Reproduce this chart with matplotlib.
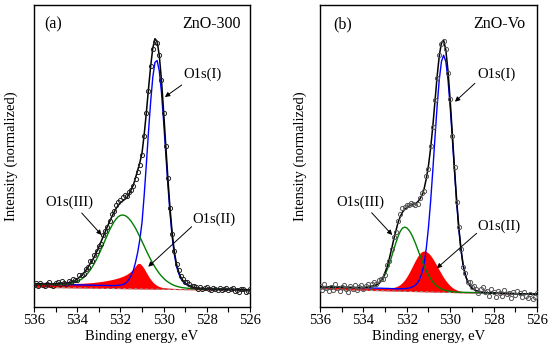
import matplotlib
matplotlib.use("Agg")
import matplotlib.pyplot as plt
import numpy as np
from matplotlib.ticker import MultipleLocator

plt.rcParams['font.family'] = ['Liberation Serif', 'DejaVu Serif']

# O1s XPS spectra, binding energy 536 -> 526 eV in 0.1 eV steps
ENERGY = np.linspace(536.0, 526.0, 101)

# ---- ZnO-300 (a) ----
BASE_A = [19.4, 19.4, 19.3, 19.3, 19.3, 19.2, 19.2, 19.2, 19.1, 19.1,
          19.1, 19.0, 19.0, 19.0, 18.9, 18.9, 18.9, 18.8, 18.8, 18.8,
          18.7, 18.7, 18.7, 18.6, 18.6, 18.6, 18.5, 18.5, 18.4, 18.4,
          18.4, 18.3, 18.3, 18.3, 18.2, 18.2, 18.2, 18.1, 18.1, 18.1,
          18.0, 18.0, 18.0, 17.9, 17.9, 17.9, 17.8, 17.8, 17.8, 17.7,
          17.7, 17.7, 17.6, 17.6, 17.6, 17.5, 17.5, 17.5, 17.4, 17.4,
          17.4, 17.3, 17.3, 17.3, 17.2, 17.2, 17.2, 17.1, 17.1, 17.1,
          17.0, 17.0, 17.0, 16.9, 16.9, 16.9, 16.8, 16.8, 16.7, 16.7,
          16.7, 16.6, 16.6, 16.6, 16.5, 16.5, 16.5, 16.4, 16.4, 16.4,
          16.3, 16.3, 16.3, 16.2, 16.2, 16.2, 16.1, 16.1, 16.1, 16.0, 16.0]
SHIRLEY_A = [22.5, 22.5, 22.4, 22.4, 22.4, 22.3, 22.3, 22.3, 22.2, 22.2,
             22.2, 22.1, 22.1, 22.1, 22.0, 22.0, 22.0, 21.9, 21.9, 21.9,
             21.8, 21.8, 21.7, 21.7, 21.7, 21.6, 21.6, 21.5, 21.5, 21.4,
             21.4, 21.4, 21.3, 21.3, 21.2, 21.2, 21.1, 21.0, 21.0, 20.9,
             20.8, 20.7, 20.7, 20.6, 20.5, 20.4, 20.3, 20.3, 20.2, 20.1,
             20.0, 19.9, 19.7, 19.6, 19.5, 19.4, 19.3, 19.2, 19.0, 18.9,
             18.8, 18.7, 18.6, 18.5, 18.4, 18.3, 18.2, 18.2, 18.1, 18.1,
             18.0, 18.0, 18.0, 17.9, 17.9, 17.9, 17.8, 17.8, 17.8, 17.7,
             17.7, 17.7, 17.6, 17.6, 17.5, 17.5, 17.5, 17.4, 17.4, 17.4,
             17.3, 17.3, 17.3, 17.2, 17.2, 17.2, 17.1, 17.1, 17.1, 17.0, 17.0]
PEAK1_A = [0] * 38 + [0.3, 0.5, 0.8, 1.3, 2.2, 4.0, 7.0, 11.0, 16.0, 24.0,
                      34.0, 47.0, 64.0, 91.0, 122.0, 155.0, 185.0, 210.0, 225.0, 227.0,
                      217.0, 196.0, 167.0, 135.0, 103.0, 74.5, 51.0, 33.5, 22.0, 15.0,
                      10.0, 7.0, 5.0, 3.5, 2.5, 1.8, 1.2, 0.8, 0.5, 0.3] + [0] * 23
PEAK2_A = [0.5, 0.5, 0.6, 0.6, 0.6, 0.7, 0.7, 0.7, 0.8, 0.8,
           0.8, 0.9, 0.9, 1.0, 1.0, 1.1, 1.1, 1.2, 1.3, 1.4,
           1.5, 1.6, 1.7, 1.8, 2.0, 2.2, 2.4, 2.6, 2.9, 3.2,
           3.5, 3.8, 4.2, 4.6, 5.0, 5.5, 6.0, 6.6, 7.2, 7.9,
           8.7, 9.6, 10.6, 11.8, 13.4, 15.2, 17.6, 20.4, 23.0, 23.2,
           21.2, 18.2, 14.6, 11.0, 7.8, 5.2, 3.3, 2.0, 1.1, 0.6,
           0.3, 0.2, 0.1] + [0] * 38
PEAK3_A = [0] * 11 + [0.1, 0.2, 0.3, 0.5, 0.7, 0.9, 1.3, 1.8, 2.5, 3.4,
                      4.5, 5.8, 7.5, 9.6, 12.1, 15.0, 18.3, 22.0, 26.2, 30.7,
                      35.5, 40.5, 45.6, 50.6, 55.4, 59.7, 63.6, 66.7, 69.1, 70.5,
                      71.0, 70.6, 69.4, 67.5, 65.0, 61.8, 58.2, 54.1, 49.8, 45.3,
                      40.8, 36.3, 32.0, 27.8, 24.0, 20.4, 17.2, 14.3, 11.8, 9.6,
                      7.7, 6.2, 4.9, 3.8, 2.9, 2.2, 1.7, 1.2, 0.9, 0.7,
                      0.5, 0.3, 0.2, 0.1] + [0] * 26
FIT_A = [23.0, 23.0, 23.0, 23.0, 23.0, 23.0, 23.0, 23.0, 23.0, 23.0,
         23.0, 23.1, 23.2, 23.4, 23.5, 23.8, 24.0, 24.4, 25.0, 25.8,
         27.7, 29.4, 31.2, 33.5, 36.3, 39.4, 43.0, 46.4, 50.4, 54.8,
         59.6, 64.7, 70.0, 75.0, 80.3, 85.1, 89.8, 94.2, 98.2, 101.4,
         103.8, 105.6, 107.4, 108.8, 112.9, 117.1, 121.7, 128.9, 136.3, 144.1,
         153.5, 171.9, 193.6, 217.6, 240.1, 258.6, 268.0, 265.4, 251.4, 227.3,
         195.7, 161.6, 127.9, 97.9, 73.2, 54.7, 42.4, 34.9, 29.3, 26.0,
         23.7, 22.0, 20.8, 19.9, 19.2, 18.7, 18.3, 18.1, 17.8, 17.7,
         17.7, 17.7, 17.6, 17.6, 17.5, 17.5, 17.5, 17.4, 17.4, 17.4,
         17.3, 17.3, 17.3, 17.2, 17.2, 17.2, 17.1, 17.1, 17.1, 17.0, 17.0]
DATA_A = [21.5, 23.5, 21.0, 24.0, 22.0, 20.5, 23.0, 24.5, 22.0, 21.0,
          23.5, 24.6, 22.7, 25.4, 23.5, 22.8, 25.5, 24.9, 27.5, 26.8,
          27.2, 31.4, 32.2, 32.5, 37.8, 39.4, 45.5, 45.4, 51.4, 55.3,
          61.1, 63.2, 72.0, 75.5, 79.3, 86.1, 92.8, 96.2, 102.2, 104.9,
          106.8, 109.6, 111.9, 110.8, 114.4, 117.1, 120.7, 127.9, 134.8, 142.1,
          151.5, 170.9, 193.6, 216.1, 241.1, 257.6, 265.0, 263.4, 251.9, 226.3,
          193.7, 160.6, 128.9, 98.4, 72.7, 55.7, 42.4, 36.4, 30.3, 28.0,
          24.7, 24.5, 22.3, 20.4, 21.2, 19.7, 17.8, 19.6, 17.8, 18.7,
          19.7, 18.2, 16.6, 19.1, 17.5, 16.5, 18.5, 16.9, 17.9, 18.9,
          16.3, 17.8, 18.8, 15.7, 17.2, 15.2, 18.1, 17.6, 14.6, 16.0, 17.5]

# ---- ZnO-Vo (b) ----
BASE_B = [17.5, 17.4, 17.4, 17.3, 17.3, 17.2, 17.2, 17.1, 17.1, 17.0,
          17.0, 16.9, 16.8, 16.8, 16.7, 16.7, 16.6, 16.6, 16.5, 16.5,
          16.4, 16.3, 16.3, 16.2, 16.2, 16.1, 16.1, 16.0, 16.0, 15.9,
          15.9, 15.8, 15.7, 15.7, 15.6, 15.6, 15.5, 15.5, 15.4, 15.4,
          15.3, 15.2, 15.2, 15.1, 15.1, 15.0, 15.0, 14.9, 14.9, 14.8,
          14.8, 14.7, 14.6, 14.6, 14.5, 14.5, 14.4, 14.4, 14.3, 14.3,
          14.2, 14.1, 14.1, 14.0, 14.0, 13.9, 13.9, 13.8, 13.8, 13.7,
          13.7, 13.6, 13.5, 13.5, 13.4, 13.4, 13.3, 13.3, 13.2, 13.2,
          13.1, 13.0, 13.0, 12.9, 12.9, 12.8, 12.8, 12.7, 12.7, 12.6,
          12.6, 12.5, 12.4, 12.4, 12.3, 12.3, 12.2, 12.2, 12.1, 12.1, 12.0]
SHIRLEY_B = [20.0, 19.9, 19.9, 19.8, 19.8, 19.7, 19.7, 19.6, 19.6, 19.5,
             19.5, 19.4, 19.3, 19.3, 19.2, 19.2, 19.1, 19.1, 19.0, 19.0,
             18.9, 18.8, 18.8, 18.7, 18.7, 18.6, 18.6, 18.5, 18.5, 18.4,
             18.3, 18.3, 18.2, 18.1, 18.1, 18.0, 17.9, 17.8, 17.7, 17.6,
             17.5, 17.4, 17.4, 17.3, 17.2, 17.1, 17.0, 16.9, 16.8, 16.7,
             16.6, 16.5, 16.3, 16.2, 16.0, 15.9, 15.7, 15.5, 15.4, 15.2,
             15.0, 14.9, 14.7, 14.6, 14.5, 14.5, 14.4, 14.3, 14.3, 14.2,
             14.2, 14.1, 14.0, 14.0, 13.9, 13.9, 13.8, 13.8, 13.7, 13.7,
             13.6, 13.6, 13.5, 13.4, 13.4, 13.3, 13.3, 13.2, 13.2, 13.1,
             13.1, 13.0, 12.9, 12.9, 12.8, 12.8, 12.7, 12.7, 12.6, 12.6, 12.5]
PEAK1_B = [0] * 37 + [0.2, 0.3, 0.5, 0.8, 1.3, 2.0, 3.0, 4.5, 7.0, 11.0,
                      17.0, 26.5, 41.9, 62.8, 89.2, 120.1, 153.2, 185.0, 211.8, 229.7,
                      236.0,
                      229.7, 211.8, 185.0, 153.2, 120.1, 89.2, 62.8, 41.9, 26.5, 17.0,
                      11.0, 7.0, 4.5, 3.0, 2.0, 1.3, 0.8, 0.5, 0.3, 0.2] + [0] * 23
PEAK2_B = [0] * 30 + [0.1, 0.2, 0.4, 0.7, 1.2, 1.9, 3.0, 4.5, 6.6, 9.2,
                      12.5, 16.3, 20.5, 25.0, 29.3, 33.2, 36.3, 38.3, 39.0, 38.5,
                      37.0, 34.7, 31.7, 28.2, 24.4, 20.6, 17.0, 13.6, 10.6, 8.1,
                      6.0, 4.3, 3.0, 2.1, 1.4, 0.9, 0.6, 0.4, 0.2, 0.1] + [0] * 31
PEAK3_B = [0] * 18 + [0.1, 0.2, 0.3, 0.5, 0.8, 1.2, 1.7, 2.4, 3.2, 4.3,
                      6.6, 9.8, 13.9, 19.0, 25.0, 31.9, 39.1, 46.1, 52.5, 57.6,
                      60.9, 62.0, 61.3, 59.1, 55.7, 51.3, 46.1, 40.5, 34.7, 29.1,
                      23.8, 19.0, 14.8, 11.3, 8.4, 6.1, 4.3, 3.0, 2.0, 1.3,
                      0.9, 0.5, 0.3, 0.2, 0.1] + [0] * 38
FIT_B = [20.0, 19.9, 19.9, 19.8, 19.8, 19.7, 19.7, 19.6, 19.6, 19.5,
         19.5, 19.4, 19.3, 19.3, 19.2, 19.2, 19.1, 19.1, 19.1, 19.2,
         19.2, 19.3, 19.6, 19.9, 20.4, 21.0, 21.8, 22.8, 25.6, 29.2,
         34.3, 40.5, 48.6, 57.7, 67.4, 76.0, 84.4, 90.1, 94.5, 97.3,
         99.1, 100.6, 101.6, 102.6, 103.1, 104.8, 107.5, 111.3, 118.1, 128.1,
         141.2, 158.7, 180.5, 205.7, 230.7, 251.3, 264.4, 266.4, 256.6, 235.6,
         206.3, 172.6, 137.9, 105.9, 78.7, 57.3, 41.5, 31.7, 25.5, 21.3,
         18.7, 17.1, 16.0, 15.3, 14.7, 14.4, 14.1, 14.0, 13.7, 13.7,
         13.6, 13.6, 13.5, 13.4, 13.4, 13.3, 13.3, 13.2, 13.2, 13.1,
         13.1, 13.0, 12.9, 12.9, 12.8, 12.8, 12.7, 12.7, 12.6, 12.6, 12.5]
DATA_B = [21.0, 16.9, 22.4, 18.3, 15.8, 20.2, 17.2, 22.6, 18.6, 16.0,
          19.5, 21.4, 17.3, 14.8, 20.7, 18.2, 22.1, 17.1, 19.6, 21.7,
          17.7, 20.3, 23.1, 19.4, 22.4, 25.0, 22.8, 26.3, 27.6, 28.2,
          31.8, 42.0, 45.6, 58.2, 69.9, 74.5, 85.9, 93.1, 98.5, 99.8,
          102.1, 102.1, 104.1, 103.1, 102.1, 102.8, 108.5, 113.3, 116.1, 131.1,
          138.2, 160.7, 179.5, 207.2, 228.7, 251.8, 262.9, 265.4, 258.1, 233.6,
          207.3, 170.6, 139.9, 104.9, 80.2, 57.3, 40.0, 33.7, 24.5, 24.3,
          19.7, 21.1, 18.0, 13.8, 18.2, 19.4, 14.6, 16.0, 10.7, 17.7,
          15.1, 9.6, 16.0, 13.4, 10.9, 16.8, 12.3, 14.2, 8.2, 15.1,
          12.1, 16.0, 13.4, 9.4, 14.3, 10.8, 8.7, 13.2, 7.6, 10.1, 13.5]

TAGS = ["(a)", "(b)"]
SAMPLES = ["ZnO-300", "ZnO-Vo"]
COMPONENTS = ["O1s(I)", "O1s(II)", "O1s(III)"]


def plot_panel(ax, tag, sample, base, shirley, p1, p2, p3, fit, data, mcolor, notes):
    base = np.array(base)
    shirley = np.array(shirley)
    ax.fill_between(ENERGY, base, shirley + np.array(p2), color='#ff0000', lw=0, zorder=1)
    ax.plot(ENERGY, base, ls=(0, (3, 2)), color='#999999', lw=0.8, zorder=1.5)
    ax.plot(ENERGY, shirley + np.array(p1), color='#0000ff', lw=1.0, zorder=2)
    ax.plot(ENERGY, shirley + np.array(p3), color='#008000', lw=1.0, zorder=2)
    ax.plot(ENERGY, fit, color='black', lw=1.1, zorder=3)
    ax.plot(ENERGY, data, 'o', mfc='none', mec=mcolor, ms=3.0, mew=0.7, zorder=4)

    ax.set_xlim(536, 526)
    ax.set_ylim(0, 301.7)
    ax.set_xticks([536, 534, 532, 530, 528, 526])
    ax.xaxis.set_minor_locator(MultipleLocator(1))
    ax.set_yticks([])
    ax.tick_params(axis='x', which='both', direction='out', length=3.5, width=0.8,
                   labelsize=10.5, pad=2)
    for s in ax.spines.values():
        s.set_linewidth(1.0)
    ax.set_xlabel("Binding energy, eV", fontsize=10.5, labelpad=2)
    ax.set_ylabel("Intensity (normalized)", fontsize=10.5)

    ax.text(notes['tag'][0], notes['tag'][1], tag, transform=ax.transAxes,
            fontsize=11.5, ha='left', va='center')
    ax.text(notes['sample'][0], notes['sample'][1], sample, transform=ax.transAxes,
            fontsize=11.5, ha='right', va='center')
    for name in COMPONENTS:
        tx, ty, tail, tip = notes[name]
        ax.text(tx, ty, name, fontsize=10.5, ha='left', va='center', zorder=5)
        ax.annotate('', xy=tip, xytext=tail, zorder=5,
                    arrowprops=dict(arrowstyle='-|>', color='black', lw=0.7,
                                    mutation_scale=7, shrinkA=0, shrinkB=0))


def main():
    fig = plt.figure(figsize=(5.5, 3.57), dpi=100)
    ax_a = fig.add_axes([0.0618, 0.1409, 0.3927, 0.845])
    ax_b = fig.add_axes([0.5818, 0.1409, 0.3945, 0.845])

    notes_a = {
        'tag': (0.046, 0.937), 'sample': (0.958, 0.937),
        'O1s(I)': (529.1, 232.7, (529.16, 221.7), (529.94, 209.7)),
        'O1s(II)': (528.69, 87.7, (528.7, 80.0), (530.71, 40.0)),
        'O1s(III)': (535.49, 104.7, (533.79, 93.7), (532.87, 71.7)),
    }
    notes_b = {
        'tag': (0.061, 0.937), 'sample': (0.948, 0.937),
        'O1s(I)': (528.73, 232.7, (528.86, 223.4), (529.78, 205.0)),
        'O1s(II)': (528.73, 80.7, (528.78, 73.4), (530.62, 38.4)),
        'O1s(III)': (535.26, 104.7, (533.62, 94.0), (532.67, 71.7)),
    }
    plot_panel(ax_a, TAGS[0], SAMPLES[0], BASE_A, SHIRLEY_A, PEAK1_A, PEAK2_A, PEAK3_A,
               FIT_A, DATA_A, '#222222', notes_a)
    plot_panel(ax_b, TAGS[1], SAMPLES[1], BASE_B, SHIRLEY_B, PEAK1_B, PEAK2_B, PEAK3_B,
               FIT_B, DATA_B, '#555555', notes_b)
    ax_a.yaxis.set_label_coords(-0.074, 0.5)
    ax_b.yaxis.set_label_coords(-0.061, 0.5)

    fig.savefig("out.png", dpi=100)


if __name__ == "__main__":
    main()
